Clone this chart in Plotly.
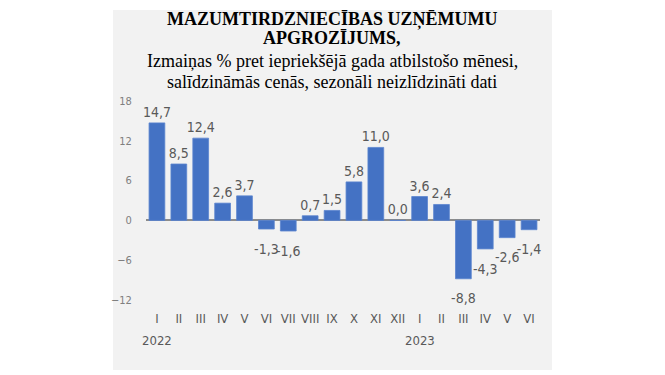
import plotly.graph_objects as go

months = ["I", "II", "III", "IV", "V", "VI", "VII", "VIII", "IX", "X", "XI", "XII",
          "I", "II", "III", "IV", "V", "VI"]
values = [14.7, 8.5, 12.4, 2.6, 3.7, -1.3, -1.6, 0.7, 1.5, 5.8, 11.0, 0.0,
          3.6, 2.4, -8.8, -4.3, -2.6, -1.4]
years = ["2022", "2023"]
year_start_idx = [0, 12]
y_ticks = [-12, -6, 0, 6, 12, 18]

title_lines = [
    ("<b>MAZUMTIRDZNIECĪBAS UZŅĒMUMU</b>", 20),
    ("<b>APGROZĪJUMS,</b>", 38),
    ("Izmaiņas % pret iepriekšējā gada atbilstošo mēnesi,", 61),
    ("salīdzināmās cenās, sezonāli neizlīdzināti dati", 82),
]

# page body has an 8px default margin; work in page pixels
OFF = 8
W, H = 665 - OFF, 375 - OFF
PL, PR, PT, PB = 146, 540, 101, 300          # plot area in page pixels
L, T = PL - OFF, PT - OFF
pw, ph = PR - PL, PB - PT
R, B = W - L - pw, H - T - ph

def px_x(x):
    return (x - PL) / pw

def px_y(y):
    return (PB - y) / ph

cond = "Liberation Sans Narrow, DejaVu Sans Condensed, Arial Narrow, sans-serif"
serif = "Liberation Serif, Times New Roman, serif"

def fmt(v):
    return f"{v:.1f}".replace(".", ",")

x_idx = list(range(len(values)))
pos_text = [fmt(v) if v >= 0 else "" for v in values]
neg_x = [i for i, v in zip(x_idx, values) if v < 0]
neg_y = [v for v in values if v < 0]
neg_text = [fmt(v) for v in neg_y]

label_font = dict(family=cond, size=14, color="#595959")

fig = go.Figure()
fig.add_trace(go.Bar(
    x=x_idx, y=values,
    marker=dict(color="#4472C4", line=dict(color="#5b84cf", width=0.8)),
    width=0.72,
    text=pos_text,
    texttemplate="%{text}",
    textposition="outside",
    constraintext="none",
    cliponaxis=False,
    textfont=label_font,
    hoverinfo="skip",
))
fig.add_trace(go.Scatter(
    x=neg_x, y=neg_y, text=neg_text,
    mode="markers+text", textposition="bottom center",
    marker=dict(size=21, color="rgba(0,0,0,0)"),
    textfont=label_font, cliponaxis=False, hoverinfo="skip",
))

annotations = []
for txt, yy in title_lines:
    annotations.append(dict(
        text=txt, xref="paper", yref="paper", x=px_x(332), y=px_y(yy),
        xanchor="center", yanchor="middle", showarrow=False,
        font=dict(family=serif, size=18, color="#000000"),
    ))
for yr, idx in zip(years, year_start_idx):
    annotations.append(dict(
        text=yr, xref="x", yref="paper", x=idx, y=px_y(340),
        xanchor="center", yanchor="middle", showarrow=False,
        font=dict(family=cond, size=13, color="#595959"),
    ))

fig.update_layout(
    width=W, height=H, autosize=False,
    margin=dict(l=L, r=R, t=T, b=B, pad=0),
    paper_bgcolor="white",
    plot_bgcolor="rgba(0,0,0,0)",
    separators=",.",
    showlegend=False,
    annotations=annotations,
    shapes=[dict(type="rect", xref="paper", yref="paper",
                 x0=px_x(113), x1=px_x(552), y0=px_y(370), y1=px_y(10),
                 fillcolor="#f2f2f2", line=dict(width=0), layer="below")],
    xaxis=dict(
        range=[-0.5, len(values) - 0.5],
        tickvals=x_idx, ticktext=months,
        showgrid=False, zeroline=False, showline=False,
        ticks="outside", ticklen=6, tickcolor="rgba(0,0,0,0)",
        tickfont=dict(family=cond, size=13, color="#595959"),
        tickangle=0,
    ),
    yaxis=dict(
        range=[-12, 18], tickvals=y_ticks,
        showgrid=False, zeroline=True, zerolinecolor="#8c8c8c", zerolinewidth=1.5,
        showline=False,
        ticks="outside", ticklen=11, tickcolor="rgba(0,0,0,0)",
        tickfont=dict(family=cond, size=11, color="#7f7f7f"),
    ),
)

fig.write_html("out.html")
